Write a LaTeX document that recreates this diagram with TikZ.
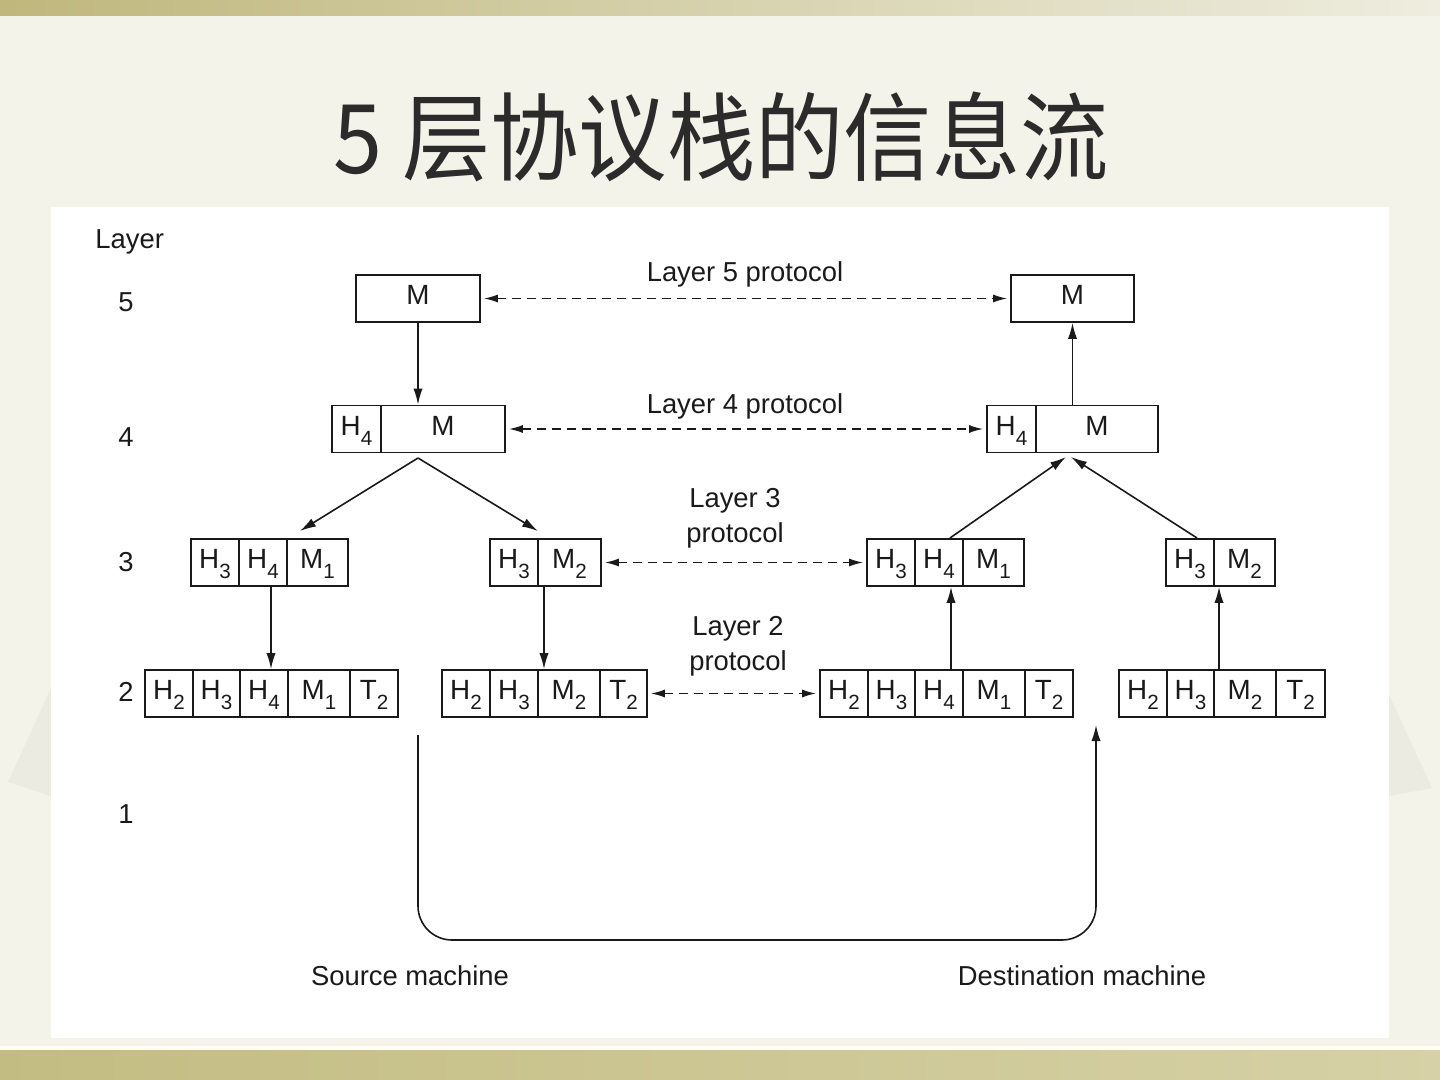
\documentclass[tikz,border=0pt]{standalone}
\usepackage{fontspec}
\setmainfont{Liberation Sans}
\newfontfamily\cjk{Noto Sans CJK SC}
\usetikzlibrary{arrows.meta}
\newcommand\sbs[1]{\raisebox{-5pt}{\fontsize{10.3pt}{10pt}\selectfont #1}}
\definecolor{cream}{HTML}{F4F3E9}
\definecolor{oliveL}{HTML}{BFB77C}
\definecolor{oliveR}{HTML}{EEEDDF}
\definecolor{oliveBL}{HTML}{C3BC82}
\definecolor{oliveBR}{HTML}{D6D1A6}
\definecolor{swirl}{HTML}{ECEBE2}
\definecolor{titlecol}{HTML}{2B2B2B}
\definecolor{ink}{HTML}{1A1A1A}
\tikzset{
  cell/.style={draw=ink, line width=0.85pt, minimum height=23.5pt, inner sep=0pt,
    text height=9.8pt, text depth=3.5pt, text=ink, font=\fontsize{13.9pt}{16pt}\selectfont},
  lbl/.style={text=ink, inner sep=0pt, align=center, font=\fontsize{13.7pt}{17.5pt}\selectfont},
  arr/.style={draw=ink, line width=0.8pt, -{Latex[length=8pt,width=4.6pt]}},
  darr/.style={draw=ink, line width=0.8pt, {Latex[length=7pt,width=4pt]}-{Latex[length=7pt,width=4pt]},
    dash pattern=on 4.5pt off 3pt, shorten <=1.5pt, shorten >=1.5pt},
}
\begin{document}
\begin{tikzpicture}[x=0.5pt,y=-0.5pt]
\useasboundingbox (0,0) rectangle (1440,1080);
% background
\fill[cream] (0,0) rectangle (1440,1080);
\shade[left color=oliveL, right color=oliveR] (0,0) rectangle (1440,16);
\fill[swirl] (51,688) -- (8,782) -- (51,796) -- cycle;
\fill[swirl] (1389,695) -- (1432,788) -- (1389,796) -- cycle;
\fill[white] (51,207) rectangle (1389,1038);
\fill[white!60!yellow!15] (0,1046) rectangle (1440,1050);
\shade[left color=oliveBL, right color=oliveBR] (0,1050) rectangle (1440,1080);
% title
\node[anchor=base, text=titlecol, inner sep=0pt, font=\cjk\fontsize{48pt}{52pt}\selectfont] (title) at (721,174) {\scalebox{0.92}[1]{5 层协议栈的信息流}};
% layer labels
\node[lbl, anchor=west] (layer) at (95,242) {Layer};
\node[lbl] (n5) at (126,302) {5};
\node[lbl] (n4) at (126,437) {4};
\node[lbl] (n3) at (126,562) {3};
\node[lbl] (n2) at (126,692) {2};
\node[lbl] (n1) at (126,814) {1};
% layer 5
\node[cell, minimum width=62pt] (l5a) at (418,298.5) {M};
\node[cell, minimum width=61.5pt] (l5b) at (1072.5,298.5) {M};
% layer 4
\node[cell, minimum width=24.5pt] (l4ah) at (356.5,429) {H\sbs4};
\node[cell, minimum width=62pt] (l4am) at (443,429) {M};
\node[cell, minimum width=24.5pt] (l4bh) at (1011.5,429) {H\sbs4};
\node[cell, minimum width=61pt] (l4bm) at (1097,429) {M};
% layer 3
\node[cell, minimum width=24pt] (a3h3) at (215,562.5) {H\sbs3};
\node[cell, minimum width=24pt] (a3h4) at (263,562.5) {H\sbs4};
\node[cell, minimum width=30.5pt] (a3m1) at (317.5,562.5) {M\sbs1};
\node[cell, minimum width=24pt] (b3h3) at (514,562.5) {H\sbs3};
\node[cell, minimum width=31.5pt] (b3m2) at (569.5,562.5) {M\sbs2};
\node[cell, minimum width=24pt] (c3h3) at (891,562.5) {H\sbs3};
\node[cell, minimum width=24pt] (c3h4) at (939,562.5) {H\sbs4};
\node[cell, minimum width=30.5pt] (c3m1) at (993.5,562.5) {M\sbs1};
\node[cell, minimum width=24pt] (d3h3) at (1190,562.5) {H\sbs3};
\node[cell, minimum width=30.5pt] (d3m2) at (1244.5,562.5) {M\sbs2};
% layer 2
\node[cell, minimum width=24pt] (a2h2) at (169,693.5) {H\sbs2};
\node[cell, minimum width=23.5pt] (a2h3) at (216.5,693.5) {H\sbs3};
\node[cell, minimum width=24pt] (a2h4) at (264,693.5) {H\sbs4};
\node[cell, minimum width=31pt] (a2m1) at (319,693.5) {M\sbs1};
\node[cell, minimum width=24pt] (a2t2) at (374,693.5) {T\sbs2};
\node[cell, minimum width=24pt] (b2h2) at (466,693.5) {H\sbs2};
\node[cell, minimum width=24pt] (b2h3) at (514,693.5) {H\sbs3};
\node[cell, minimum width=31pt] (b2m2) at (569,693.5) {M\sbs2};
\node[cell, minimum width=23.5pt] (b2t2) at (623.5,693.5) {T\sbs2};
\node[cell, minimum width=24pt] (c2h2) at (844,693.5) {H\sbs2};
\node[cell, minimum width=23.5pt] (c2h3) at (891.5,693.5) {H\sbs3};
\node[cell, minimum width=24pt] (c2h4) at (939,693.5) {H\sbs4};
\node[cell, minimum width=31pt] (c2m1) at (994,693.5) {M\sbs1};
\node[cell, minimum width=24pt] (c2t2) at (1049,693.5) {T\sbs2};
\node[cell, minimum width=24pt] (d2h2) at (1143,693.5) {H\sbs2};
\node[cell, minimum width=23.5pt] (d2h3) at (1190.5,693.5) {H\sbs3};
\node[cell, minimum width=31pt] (d2m2) at (1245,693.5) {M\sbs2};
\node[cell, minimum width=24.5pt] (d2t2) at (1300.5,693.5) {T\sbs2};
% protocol labels
\node[lbl] (p5) at (745,274) {Layer 5 protocol};
\node[lbl] (p4) at (745,406) {Layer 4 protocol};
\node[lbl] (p3) at (735,518) {Layer 3\\protocol};
\node[lbl] (p2) at (738,646) {Layer 2\\protocol};
% dashed peer arrows
\draw[darr] (l5a.east) -- (l5b.west);
\draw[darr] (l4am.east) -- (l4bh.west);
\draw[darr] (b3m2.east) -- (c3h3.west);
\draw[darr] (b2t2.east) -- (c2h2.west);
% vertical arrows
\draw[arr] (l5a.south) -- (l5a.south |- l4am.north);
\draw[arr] (l5b.south |- l4bm.north) -- (l5b.south);
\coordinate (apexL) at (418,458);
\coordinate (tipA) at (300,531);
\coordinate (tipB) at (538,531);
\draw[arr] (apexL) -- (tipA);
\draw[arr] (apexL) -- (tipB);
\coordinate (apexRa) at (1066,457);
\coordinate (apexRb) at (1071,457);
\coordinate (srcC) at (950,538);
\coordinate (srcD) at (1197,538);
\draw[arr] (srcC) -- (apexRa);
\draw[arr] (srcD) -- (apexRb);
\draw[arr] ([xshift=4pt]a3h4.south) -- ([xshift=4pt]a3h4.south |- a2h4.north);
\draw[arr] ([xshift=-12.75pt]b3m2.south) -- ([xshift=-12.75pt]b3m2.south |- b2m2.north);
\draw[arr] ([xshift=6pt]c3h4.south |- c2h4.north) -- ([xshift=6pt]c3h4.south);
\draw[arr] ([xshift=-12.75pt]d3m2.south |- d2m2.north) -- ([xshift=-12.75pt]d3m2.south);
% physical medium
\coordinate (phyS) at (418,735);
\coordinate (phyL) at (418,940);
\coordinate (phyR) at (1096,940);
\coordinate (phyE) at (1096,725);
\draw[arr, rounded corners=17pt] (phyS) -- (phyL) -- (phyR) -- (phyE);
% machine labels
\node[lbl] (src) at (410,976) {Source machine};
\node[lbl] (dst) at (1082,976) {Destination machine};
\end{tikzpicture}
\end{document}
